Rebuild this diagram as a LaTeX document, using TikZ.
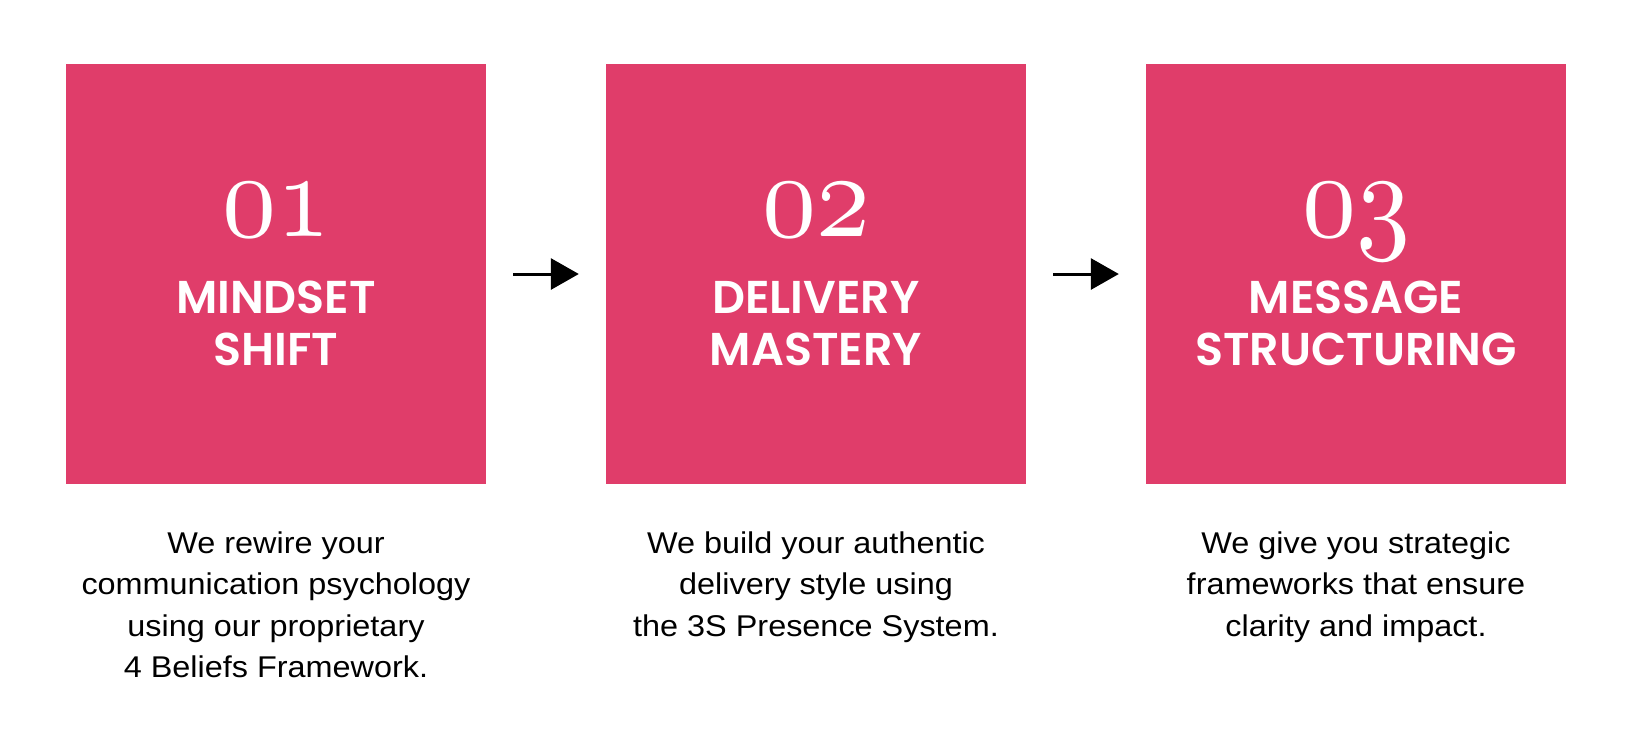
\documentclass[tikz,border=0pt]{standalone}
\usepackage{fontspec}
\usepackage{graphicx}
\usetikzlibrary{arrows.meta}
\newfontfamily\titlefont{Poppins SemiBold}
\newfontfamily\bodyfont{Liberation Sans}[FakeStretch=1.08]
\newcommand{\stepnum}[1]{\scalebox{10.8}[12.2]{\fontencoding{OML}\fontfamily{lmm}\fontseries{m}\fontshape{it}\fontsize{10}{10}\selectfont #1}}
\definecolor{boxpink}{HTML}{E03D6A}
\tikzset{
  stepbox/.style={fill=boxpink, draw=none, minimum width=420pt, minimum height=420pt, inner sep=0pt},
  numtext/.style={text=white, anchor=base, inner sep=0pt},
  titletext/.style={text=white, align=center, inner sep=0pt, font=\titlefont\fontsize{46}{52}\selectfont},
  desctext/.style={text=black, align=center, inner sep=0pt, anchor=base, font=\bodyfont\fontsize{30}{41.5}\selectfont},
  flow/.style={line width=3pt, -{Triangle[length=28pt,width=31pt]}}
}
\begin{document}
\begin{tikzpicture}[x=1pt,y=-1pt]
\useasboundingbox (0,0) rectangle (1632,748);
\fill[white] (0,0) rectangle (1632,748);
\node[stepbox] (b1) at (276,274) {};
\node[stepbox] (b2) at (816,274) {};
\node[stepbox] (b3) at (1356,274) {};
\node[numtext] (n1) at (276,236) {\stepnum{01}};
\node[numtext] (n2) at (816,236) {\stepnum{02}};
\node[numtext] (n3) at (1356,236) {\stepnum{03}};
\node[titletext] (t1) at (276,323.5) {MINDSET\\SHIFT};
\node[titletext] (t2) at (816,323.5) {DELIVERY\\MASTERY};
\node[titletext] (t3) at (1356,323.5) {MESSAGE\\STRUCTURING};
\node[desctext] (d1) at (276,677.5) {We rewire your\\communication psychology\\using our proprietary\\4 Beliefs Framework.};
\node[desctext] (d2) at (816,636) {We build your authentic\\delivery style using\\the 3S Presence System.};
\node[desctext] (d3) at (1356,636) {We give you strategic\\frameworks that ensure\\clarity and impact.};
\coordinate (a1s) at ([xshift=27pt]b1.east);
\coordinate (a1e) at ([xshift=-27pt]b2.west);
\coordinate (a2s) at ([xshift=27pt]b2.east);
\coordinate (a2e) at ([xshift=-27pt]b3.west);
\draw[flow] (a1s) -- (a1e);
\draw[flow] (a2s) -- (a2e);
\end{tikzpicture}
\end{document}
